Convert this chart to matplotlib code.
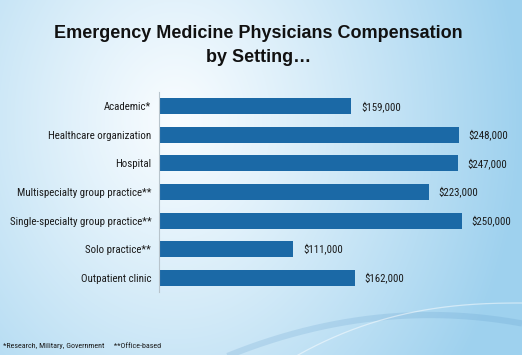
import numpy as np
import matplotlib
matplotlib.use("Agg")
import matplotlib.pyplot as plt

categories = ["Academic*", "Healthcare organization", "Hospital",
              "Multispecialty group practice**", "Single-specialty group practice**",
              "Solo practice**", "Outpatient clinic"]
values = [159000, 248000, 247000, 223000, 250000, 111000, 162000]
value_labels = ["$159,000", "$248,000", "$247,000", "$223,000", "$250,000", "$111,000", "$162,000"]
title = "Emergency Medicine Physicians Compensation\nby Setting\u2026"
footnote = "*Research, Military, Government     **Office-based"

W, H = 522, 355
fig = plt.figure(figsize=(W / 100, H / 100), dpi=100)

# background gradient
bg = fig.add_axes([0, 0, 1, 1])
yy, xx = np.mgrid[0:H, 0:W]
cx, cy = 175.0, 120.0
tx = np.where(xx > cx, (xx - cx) / (W - cx), (cx - xx) / cx * 0.5)
ty = np.abs(yy - cy) / 260.0 * 0.6
t = np.clip(np.sqrt(tx ** 2 + ty ** 2), 0, 1) ** 1.1
white = np.array([0.975, 0.99, 1.0])
blue = np.array([0.62, 0.82, 0.935])
img = white[None, None, :] * (1 - t[..., None]) + blue[None, None, :] * t[..., None]
bg.imshow(img, extent=[0, W, H, 0], aspect="auto")
# decorative swoosh
s2 = np.linspace(215, 522, 200)
bg.plot(s2, 315 + 1.0e-3 * (s2 - 430) ** 2, color="#5b98c8", alpha=0.2, lw=4.5,
        solid_capstyle="butt")
s1 = np.linspace(298, 522, 200)
bg.plot(s1, 303 + 52 * ((522 - s1) / 224) ** 2.4, color="white", alpha=0.5, lw=0.9)
bg.set_xlim(0, W)
bg.set_ylim(H, 0)
bg.axis("off")

narrow = ["Roboto Condensed", "Archivo Narrow", "DejaVu Sans"]

ax = fig.add_axes([159 / W, 1 - 292 / H, (W - 159) / W, 200 / H])
ax.patch.set_alpha(0)
y = np.arange(len(categories))
ax.barh(y, values, height=0.56, color="#1b69a6", edgecolor="none")
ax.set_ylim(len(categories) - 0.5, -0.5)
ax.set_xlim(0, (W - 159) / 0.00121)
ax.set_yticks(y)
ax.set_yticklabels(categories, fontsize=7.8, family=narrow, color="#1a1a1a")
ax.tick_params(axis="y", length=0, pad=5.5)
ax.set_xticks([])
for s in ["top", "right", "bottom"]:
    ax.spines[s].set_visible(False)
ax.spines["left"].set_color("#b8c4cc")
ax.spines["left"].set_linewidth(0.8)
for yi, v, lab in zip(y, values, value_labels):
    ax.annotate(lab, (v, yi), xytext=(7, 0), textcoords="offset points",
                va="center", ha="left", fontsize=7.8, family=narrow, color="#1a1a1a")

fig.text(258.5 / W, 1 - 45.5 / H, title, ha="center", va="center", fontsize=13,
         fontweight="bold", family=["Liberation Sans", "DejaVu Sans"], color="#111111",
         linespacing=1.55)
fig.text(3 / W, 1 - 346 / H, footnote, ha="left", va="center", fontsize=5.8,
         family=narrow, color="#1a1a1a")

fig.savefig("out.png", dpi=100)
